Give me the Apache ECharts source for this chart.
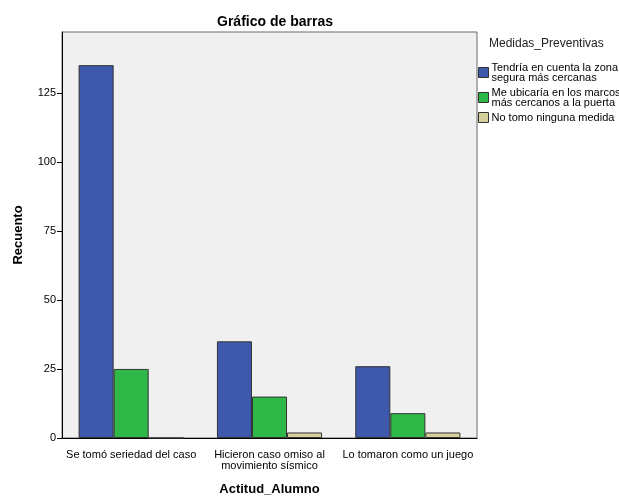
<!DOCTYPE html>
<html>
<head>
<meta charset="utf-8">
<script src="https://cdn.jsdelivr.net/npm/echarts@6/dist/echarts.min.js"></script>
<style>
html,body{margin:0;padding:0;background:#fff;}
#chart{width:619px;height:497px;}
</style>
</head>
<body>
<div id="chart"></div>
<script>
const categories = ["Se tomó seriedad del caso", "Hicieron caso omiso al\nmovimiento sísmico", "Lo tomaron como un juego"];
const seriesNames = ["Tendría en cuenta la zona\nsegura más cercanas", "Me ubicaría en los marcos\nmás cercanos a la puerta", "No tomo ninguna medida"];
const zonaSegura = [135, 35, 26];
const marcosPuerta = [25, 15, 9];
const ninguna = [0, 2, 2];
const colors = ["#3E58AC", "#2EB848", "#D5CF9B"];
const yTicks = [0, 25, 50, 75, 100, 125];

const font = "'Liberation Sans', Arial, sans-serif";
const chart = echarts.init(document.getElementById('chart'));
const values = [zonaSegura, marcosPuerta, ninguna];
chart.setOption({
  animation: false,
  backgroundColor: '#ffffff',
  title: {
    text: 'Gráfico de barras',
    left: 270, top: 10, textAlign: 'center',
    textStyle: {fontFamily: font, fontSize: 14, fontWeight: 'bold', color: '#000'}
  },
  legend: {
    orient: 'vertical',
    left: 473, top: 57,
    itemWidth: 10, itemHeight: 10, itemGap: 4,
    icon: 'rect',
    itemStyle: {borderColor: '#333', borderWidth: 1},
    textStyle: {fontFamily: font, fontSize: 11, color: '#000', lineHeight: 10, padding: [0,0,0,-2]},
    data: seriesNames
  },
  graphic: [{
    type: 'text', left: 489, top: 38,
    style: {text: 'Medidas_Preventivas', font: '12px ' + font, fill: '#222'}
  }],
  grid: {
    left: 62, top: 32, right: 142, bottom: 59,
    outerBoundsMode: 'none', containLabel: false,
    show: true, backgroundColor: '#F0F0F0', borderColor: '#6a6a6a', borderWidth: 1
  },
  xAxis: {
    type: 'category', data: categories,
    name: 'Actitud_Alumno', nameLocation: 'middle', nameGap: 45,
    nameTextStyle: {fontFamily: font, fontSize: 13, fontWeight: 'bold', color: '#000'},
    axisLine: {lineStyle: {color: '#000', width: 1}},
    axisTick: {alignWithLabel: true, length: 5, lineStyle: {color: '#000'}},
    axisLabel: {fontFamily: font, fontSize: 11, color: '#000', margin: 11, lineHeight: 11, interval: 0},
    splitLine: {show: false}
  },
  yAxis: {
    type: 'value', min: 0, max: 147, interval: 25,
    name: 'Recuento', nameLocation: 'middle', nameGap: 37,
    nameTextStyle: {fontFamily: font, fontSize: 13, fontWeight: 'bold', color: '#000'},
    axisLine: {show: true, lineStyle: {color: '#000', width: 1}},
    axisTick: {show: true, length: 5, lineStyle: {color: '#000'}, customValues: yTicks},
    axisLabel: {fontFamily: font, fontSize: 11, color: '#000', margin: 6, customValues: yTicks},
    splitLine: {show: false}
  },
  series: seriesNames.map((n, i) => ({
    name: n, type: 'bar', data: values[i],
    barGap: 0, barCategoryGap: '24%',
    itemStyle: {color: colors[i], borderColor: '#333', borderWidth: 1}
  }))
});
</script>
</body>
</html>
